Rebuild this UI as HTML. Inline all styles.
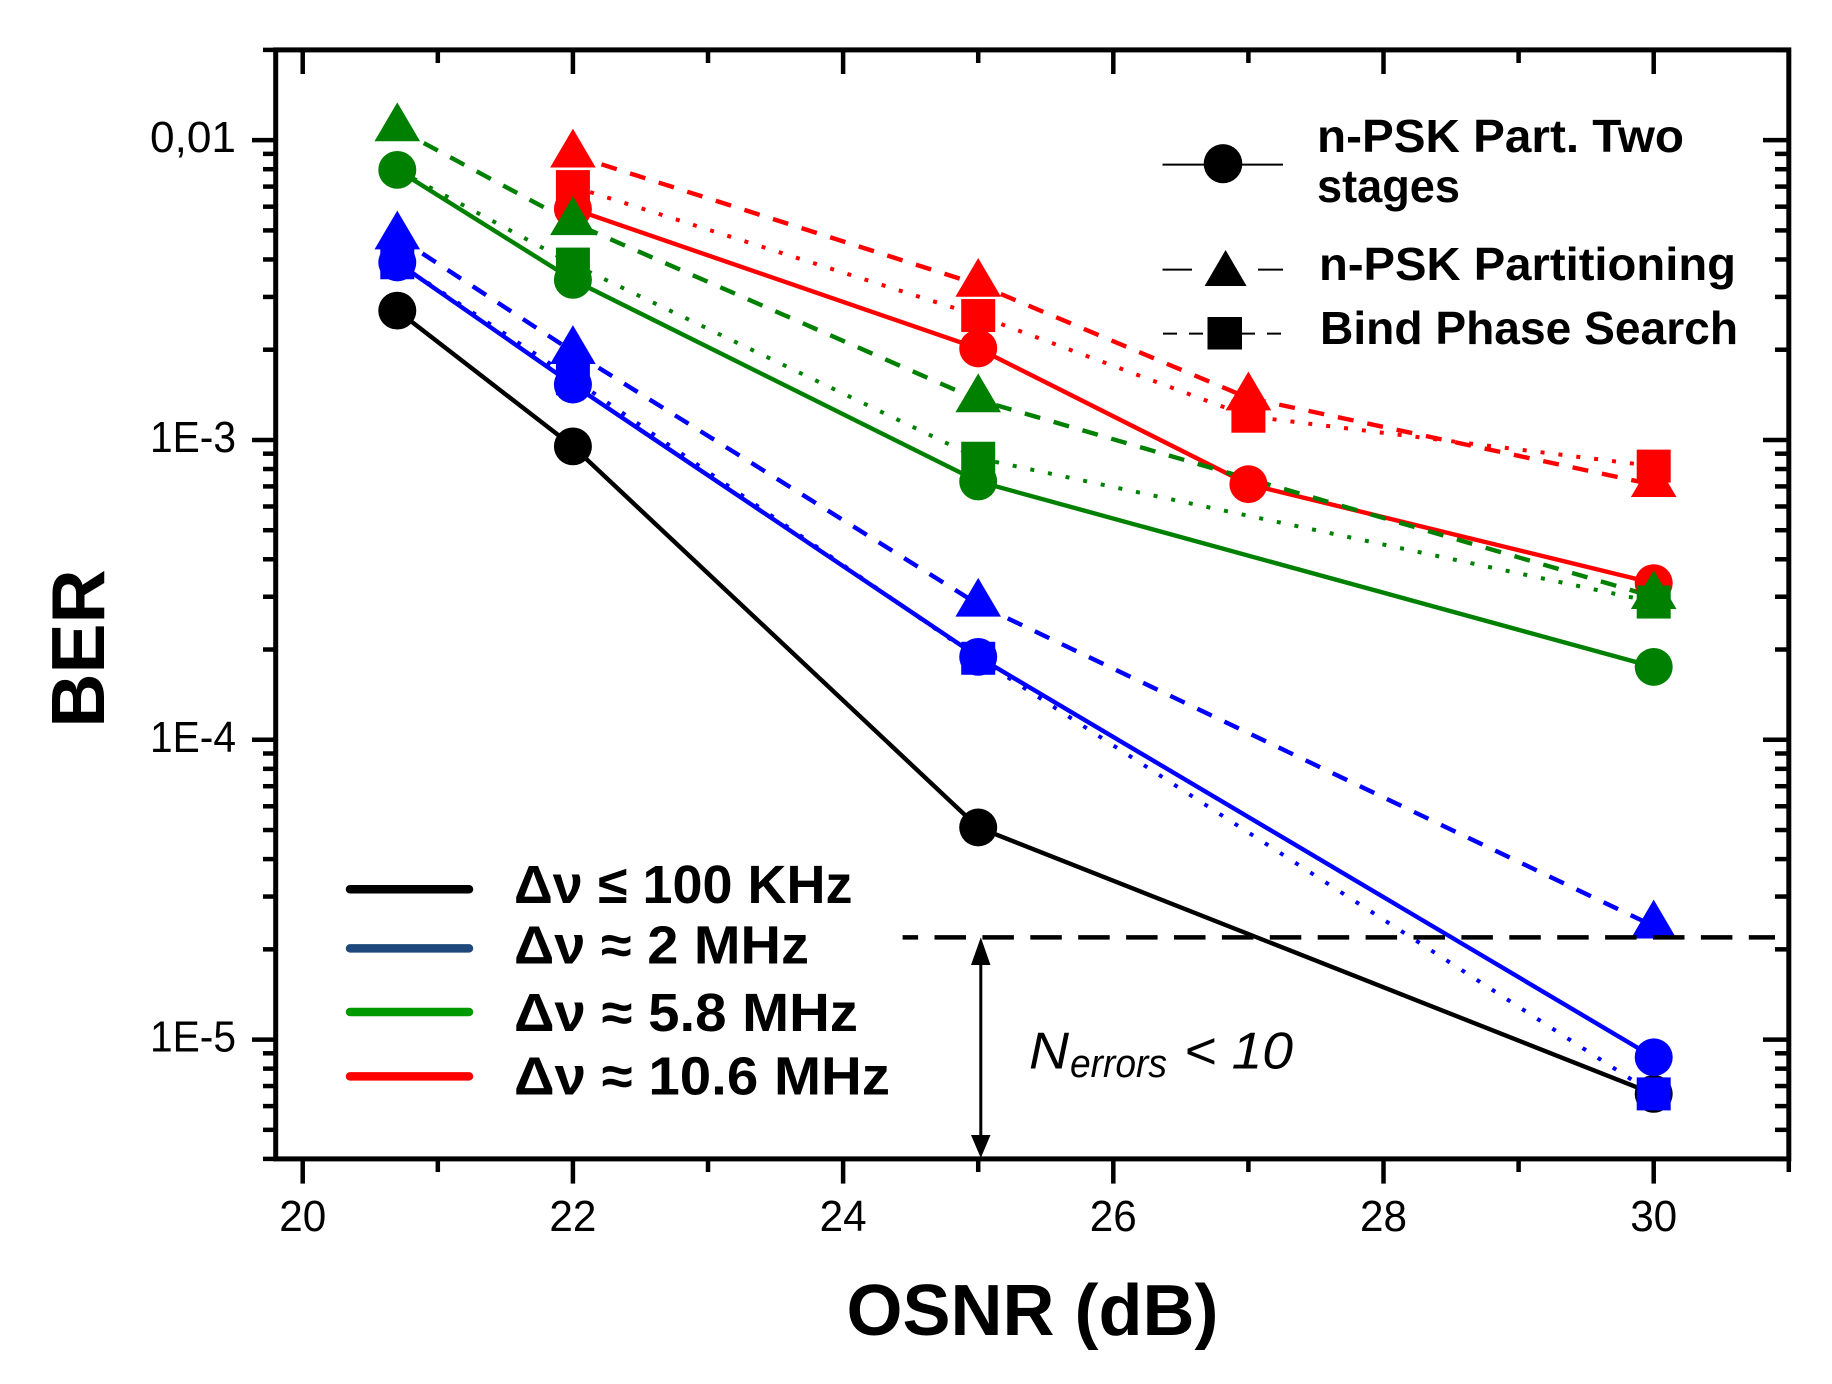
<!DOCTYPE html>
<html lang="en">
<head>
<meta charset="utf-8">
<title>BER vs OSNR</title>
<style>
html,body{margin:0;padding:0;background:#fff;width:1832px;height:1384px;overflow:hidden}
svg{display:block}
text{font-family:"Liberation Sans",sans-serif;fill:#000}
.leg{font-weight:bold;font-size:46px}
.leg2{font-weight:bold;font-size:54px}
</style>
</head>
<body>
<svg id="chart" xmlns="http://www.w3.org/2000/svg" width="1832" height="1384" viewBox="0 0 1832 1384">
  <rect x="0" y="0" width="1832" height="1384" fill="#fff"/>
  <g id="ticks"></g>
  <g id="series"></g>
  <g id="frame"></g>

  <text transform="translate(104,648.5) rotate(-90)" text-anchor="middle" font-size="75" font-weight="bold">BER</text>
  <text x="1032.5" y="1335" text-anchor="middle" font-size="72" font-weight="bold">OSNR (dB)</text>

  <g>
    <line x1="1162.5" y1="164.6" x2="1283" y2="164.6" stroke="#000" stroke-width="2"/>
    <ellipse cx="1226" cy="163.7" rx="19.3" ry="19.6" fill="#000" transform="translate(-3,0)"/>
    <text class="leg" x="1317" y="152" textLength="367" lengthAdjust="spacingAndGlyphs">n-PSK Part. Two</text>
    <text class="leg" x="1317" y="202" textLength="143" lengthAdjust="spacingAndGlyphs">stages</text>

    <line x1="1162.5" y1="269.6" x2="1192" y2="269.6" stroke="#000" stroke-width="2"/>
    <line x1="1258" y1="269.6" x2="1283" y2="269.6" stroke="#000" stroke-width="2"/>
    <polygon points="1225.6,250 1246.6,286 1204.6,286" fill="#000"/>
    <text class="leg" x="1319" y="280" textLength="417" lengthAdjust="spacingAndGlyphs">n-PSK Partitioning</text>

    <line x1="1163" y1="333.6" x2="1285" y2="333.6" stroke="#000" stroke-width="2" stroke-dasharray="14 12"/>
    <rect x="1207.5" y="317" width="34.5" height="32.5" fill="#000"/>
    <text class="leg" x="1320" y="344" textLength="418" lengthAdjust="spacingAndGlyphs">Bind Phase Search</text>
  </g>

  <g>
    <line x1="350" y1="889.3" x2="469" y2="889.3" stroke="#000" stroke-width="8.5" stroke-linecap="round"/>
    <text class="leg2" x="514" y="903" textLength="338.5" lengthAdjust="spacingAndGlyphs">Δν ≤ 100 KHz</text>
    <line x1="350" y1="948.4" x2="469" y2="948.4" stroke="#1f497d" stroke-width="8.5" stroke-linecap="round"/>
    <text class="leg2" x="514" y="963.4" textLength="295" lengthAdjust="spacingAndGlyphs">Δν ≈ 2 MHz</text>
    <line x1="350" y1="1012" x2="469" y2="1012" stroke="#009900" stroke-width="8.5" stroke-linecap="round"/>
    <text class="leg2" x="514" y="1031" textLength="344" lengthAdjust="spacingAndGlyphs">Δν ≈ 5.8 MHz</text>
    <line x1="350" y1="1076.4" x2="469" y2="1076.4" stroke="#ff0000" stroke-width="8.5" stroke-linecap="round"/>
    <text class="leg2" x="514" y="1094.5" textLength="376" lengthAdjust="spacingAndGlyphs">Δν ≈ 10.6 MHz</text>
  </g>

  <g>
    <line x1="902.6" y1="937.4" x2="1775" y2="937.4" stroke="#000" stroke-width="4.5" stroke-dasharray="31.5 16.4" stroke-dashoffset="16"/>
    <line x1="980.8" y1="950" x2="980.8" y2="1145" stroke="#000" stroke-width="3"/>
    <polygon points="980.8,937.4 990.5,965 971,965" fill="#000"/>
    <polygon points="980.8,1158 990.5,1135 971,1135" fill="#000"/>
    <text x="1029" y="1068.4" font-size="52" font-style="italic" textLength="40" lengthAdjust="spacingAndGlyphs">N</text>
    <text x="1070" y="1076.8" font-size="40" font-style="italic" textLength="97" lengthAdjust="spacingAndGlyphs">errors</text>
    <text x="1184" y="1068.4" font-size="52" font-style="italic" textLength="109" lengthAdjust="spacingAndGlyphs">&lt; 10</text>
  </g>
</svg>

<script>
// ---- chart data ----
const xMajorTicks = [20, 22, 24, 26, 28, 30];
const xMinorTicks = [21, 23, 25, 27, 29, 31];
const yMajorTicks = [0.01, 0.001, 0.0001, 0.00001];
const yTickLabels = ['0,01', '1E-3', '1E-4', '1E-5'];
const yMinorTicks = [
  0.02, 9e-3, 8e-3, 7e-3, 6e-3, 5e-3, 4e-3, 3e-3, 2e-3,
  9e-4, 8e-4, 7e-4, 6e-4, 5e-4, 4e-4, 3e-4, 2e-4,
  9e-5, 8e-5, 7e-5, 6e-5, 5e-5, 4e-5, 3e-5, 2e-5,
  9e-6, 8e-6, 7e-6, 6e-6, 5e-6, 4e-6
];
const xDomain = [19.8, 31];
const yDomain = [4e-6, 0.02];

const osnrFour = [20.7, 22, 25, 30];
const osnrRed = [22, 25, 27, 30];

const blackTwoStage = [2.70e-3, 9.52e-4, 5.10e-5, 6.59e-6];

const blueTwoStage = [3.91e-3, 1.53e-3, 1.89e-4, 8.73e-6];
const bluePartitioning = [4.75e-3, 1.97e-3, 2.83e-4, 2.39e-5];
const bluePhaseSearch = [3.90e-3, 1.60e-3, 1.87e-4, 6.59e-6];

const redTwoStage = [5.90e-3, 2.02e-3, 7.12e-4, 3.33e-4];
const redPartitioning = [8.91e-3, 3.30e-3, 1.38e-3, 7.09e-4];
const redPhaseSearch = [7.00e-3, 2.60e-3, 1.20e-3, 8.18e-4];

const greenTwoStage = [7.96e-3, 3.42e-3, 7.27e-4, 1.75e-4];
const greenPartitioning = [1.09e-2, 5.30e-3, 1.36e-3, 3.00e-4];
const greenPhaseSearch = [7.96e-3, 3.86e-3, 8.69e-4, 2.88e-4];

const seriesList = [
  {name: 'black-two-stage', color: '#000', xs: osnrFour, ys: blackTwoStage, kind: 'circle'},
  {name: 'blue-phase-search', color: '#0000ff', xs: osnrFour, ys: bluePhaseSearch, kind: 'square'},
  {name: 'blue-partitioning', color: '#0000ff', xs: osnrFour, ys: bluePartitioning, kind: 'triangle'},
  {name: 'blue-two-stage', color: '#0000ff', xs: osnrFour, ys: blueTwoStage, kind: 'circle'},
  {name: 'red-phase-search', color: '#ff0000', xs: osnrRed, ys: redPhaseSearch, kind: 'square'},
  {name: 'red-two-stage', color: '#ff0000', xs: osnrRed, ys: redTwoStage, kind: 'circle'},
  {name: 'red-partitioning', color: '#ff0000', xs: osnrRed, ys: redPartitioning, kind: 'triangle'},
  {name: 'green-phase-search', color: '#008000', xs: osnrFour, ys: greenPhaseSearch, kind: 'square', hideFirstMarker: true},
  {name: 'green-two-stage', color: '#008000', xs: osnrFour, ys: greenTwoStage, kind: 'circle'},
  {name: 'green-partitioning', color: '#008000', xs: osnrFour, ys: greenPartitioning, kind: 'triangle'}
];

// ---- axis functions ----
const plot = {left: 275.7, right: 1788.8, top: 49.9, bottom: 1158.9};
const xScale = function (v) {
  return plot.left + (v - xDomain[0]) / (xDomain[1] - xDomain[0]) * (plot.right - plot.left);
};
const yScale = function (v) {
  const lo = Math.log10(yDomain[0]);
  const hi = Math.log10(yDomain[1]);
  return plot.bottom - (Math.log10(v) - lo) / (hi - lo) * (plot.bottom - plot.top);
};

const NS = 'http://www.w3.org/2000/svg';
function mk(tag, parent, attrs) {
  const el = document.createElementNS(NS, tag);
  Object.keys(attrs).forEach(function (k) { el.setAttribute(k, attrs[k]); });
  parent.appendChild(el);
  return el;
}

const ticksG = document.getElementById('ticks');
const seriesG = document.getElementById('series');
const frameG = document.getElementById('frame');

// y ticks: outward on the left, inward on the right
yMajorTicks.forEach(function (v, i) {
  const y = yScale(v);
  const l = mk('line', ticksG, {x1: 252, x2: plot.left, y1: y, y2: y, stroke: '#000', 'stroke-width': 4.5});
  
  
  const r = mk('line', ticksG, {x1: 1763, x2: plot.right, y1: y, y2: y, stroke: '#000', 'stroke-width': 4.5});
  
  
  const t = mk('text', ticksG, {x: 236, y: y + 12, 'text-anchor': 'end', 'font-size': 44, textLength: 86, lengthAdjust: 'spacingAndGlyphs'});
  
  
  t.textContent = yTickLabels[i];
});
yMinorTicks.forEach(function (v) {
  const y = yScale(v);
  const l = mk('line', ticksG, {x1: 263, x2: plot.left, y1: y, y2: y, stroke: '#000', 'stroke-width': 4.5});
  
  
  const r = mk('line', ticksG, {x1: 1775, x2: plot.right, y1: y, y2: y, stroke: '#000', 'stroke-width': 4.5});
  
  
});

// x ticks: outward at the bottom, inward at the top
xMajorTicks.forEach(function (v) {
  const x = xScale(v);
  const b = mk('line', ticksG, {x1: x, x2: x, y1: plot.bottom, y2: 1183.6, stroke: '#000', 'stroke-width': 4.5});
  
  
  const u = mk('line', ticksG, {x1: x, x2: x, y1: plot.top, y2: 74, stroke: '#000', 'stroke-width': 4.5});
  
  
  const t = mk('text', ticksG, {x: x, y: 1231, 'text-anchor': 'middle', 'font-size': 44, textLength: 47, lengthAdjust: 'spacingAndGlyphs'});
  
  
  t.textContent = String(v);
});
xMinorTicks.forEach(function (v) {
  const x = xScale(v);
  const b = mk('line', ticksG, {x1: x, x2: x, y1: plot.bottom, y2: 1172, stroke: '#000', 'stroke-width': 4.5});
  
  
  const u = mk('line', ticksG, {x1: x, x2: x, y1: plot.top, y2: 63, stroke: '#000', 'stroke-width': 4.5});
  
  
});

// plot frame
const frameRect = mk('rect', frameG, {x: plot.left, y: plot.top, width: plot.right - plot.left, height: plot.bottom - plot.top, fill: 'none', stroke: '#000', 'stroke-width': 5});



// line style for each marker kind
const dashFor = {circle: 'none', triangle: '16 14', square: '4 14'};

// connecting lines first, then markers on top
seriesList.forEach(function (s) {
  const pts = s.xs.map(function (x, i) { return xScale(x) + ',' + yScale(s.ys[i]); }).join(' ');
  const line = mk('polyline', seriesG, {points: pts, fill: 'none', stroke: s.color, 'stroke-width': s.kind === 'square' ? 4 : 4.4, 'stroke-dasharray': dashFor[s.kind]});
  
  
});
seriesList.forEach(function (s) {
  s.xs.forEach(function (xv, i) {
    if (s.hideFirstMarker && i === 0) { return; }
    const cx = xScale(xv);
    const cy = yScale(s.ys[i]);
    let m;
    if (s.kind === 'circle') {
      m = mk('ellipse', seriesG, {cx: cx, cy: cy, rx: 19, ry: 18.9, fill: s.color});
    } else if (s.kind === 'square') {
      m = mk('rect', seriesG, {x: cx - 17, y: cy - 16.5, width: 34, height: 33, fill: s.color});
    } else {
      const p = cx + ',' + (cy - 26.5) + ' ' + (cx + 22.8) + ',' + (cy + 12.3) + ' ' + (cx - 22.8) + ',' + (cy + 12.3);
      m = mk('polygon', seriesG, {points: p, fill: s.color});
    }
    
    
  });
});
</script>
</body>
</html>
